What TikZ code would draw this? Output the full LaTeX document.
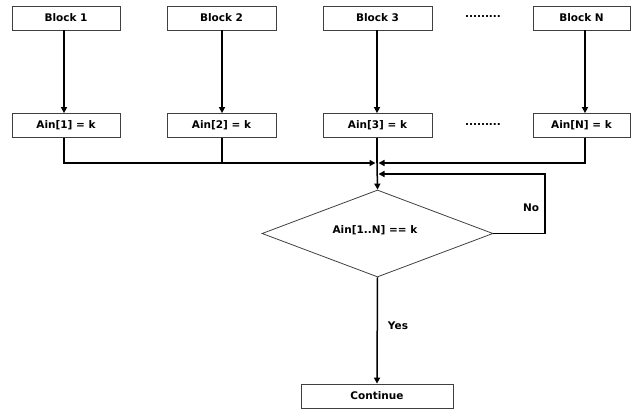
\documentclass[tikz,border=0pt]{standalone}
\usepackage{fontspec}
\setmainfont{DejaVu Sans}
\usetikzlibrary{shapes.geometric,arrows.meta}
\begin{document}
\begin{tikzpicture}[x=1pt,y=-1pt,
  box/.style={draw=black!75,line width=0.8pt,minimum height=24pt,inner sep=0pt,font=\bfseries\fontsize{10.5}{12}\selectfont},
  lbl/.style={font=\bfseries\fontsize{10.5}{12}\selectfont,inner sep=0pt},
  conn/.style={line width=1.5pt,-{Triangle[length=6pt,width=6pt]}},
  wire/.style={line width=1.5pt}]
\useasboundingbox (0,0) rectangle (633,411);
\node[box,minimum width=108pt] (b1) at (66,18) {Block 1};
\node[box,minimum width=109pt] (b2) at (221.5,18) {Block 2};
\node[box,minimum width=109pt] (b3) at (377.5,18) {Block 3};
\node[box,minimum width=97pt] (bn) at (581.5,18) {Block N};
\node[lbl] (d1) at (483,17) {.........};
\node[box,minimum width=108pt] (a1) at (66,125.5) {Ain[1] = k};
\node[box,minimum width=109pt] (a2) at (221.5,125.5) {Ain[2] = k};
\node[box,minimum width=109pt] (a3) at (377.5,125.5) {Ain[3] = k};
\node[box,minimum width=97pt] (an) at (581.5,125.5) {Ain[N] = k};
\node[lbl] (d2) at (483,125) {.........};
\node[draw=black!75,line width=0.8pt,diamond,aspect=2.65,minimum width=231pt,minimum height=87pt,inner sep=0pt] (dec) at (377.5,233.5) {};
\node[lbl] (dt) at (375,230) {Ain[1..N] == k};
\node[box,minimum width=152pt] (cont) at (377,396) {Continue};
\node[lbl] (no) at (531,208) {No};
\node[lbl] (yes) at (398,326) {Yes};
\coordinate (m) at (377,163);
\coordinate (ml) at (375.5,163);
\coordinate (mr) at (378.5,163);
\coordinate (fr) at (378.5,174);
\coordinate (fc) at (545,174);
\coordinate (j1) at (64,163);
\coordinate (j2) at (222,163);
\coordinate (jn) at (585,163);
\draw[conn] (b1.south -| j1) -- (a1.north -| j1);
\draw[conn] (b2.south -| j2) -- (a2.north -| j2);
\draw[conn] (b3.south -| m) -- (a3.north -| m);
\draw[conn] (bn.south -| jn) -- (an.north -| jn);
\draw[wire] (a1.south -| j1) -- (j1) -- (j2);
\draw[wire] (a2.south -| j2) -- (j2);
\draw[conn] (j2) -- (ml);
\draw[wire] (a3.south -| m) -- (m);
\draw[conn] (an.south -| jn) -- (jn) -- (mr);
\draw[conn] (m) -- (dec.north);
\draw[conn] (dec.east) -| (fc) -- (fr);
\draw[conn] (dec.south) -- (cont.north);
\end{tikzpicture}
\end{document}
